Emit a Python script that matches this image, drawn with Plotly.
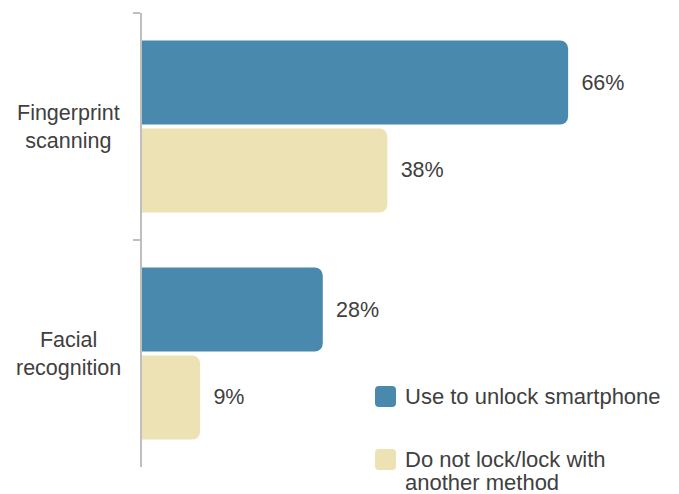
import plotly.graph_objects as go

# Biometric unlock methods, share of respondents (%)
categories = ["Fingerprint scanning", "Facial recognition"]
category_labels = ["Fingerprint<br>scanning", "Facial<br>recognition"]
use_to_unlock = [66, 28]
not_lock_other = [38, 9]

series_names = ["Use to unlock smartphone", "Do not lock/lock with another method"]
legend_lines = [["Use to unlock smartphone"], ["Do not lock/lock with", "another method"]]
colors = ["#4A89AE", "#EDE2B4"]

TEXT = "#404040"
FONT = "Liberation Sans, Arial, sans-serif"
PAD = "\u00a0\u2009"

fig = go.Figure()
for name, vals, col in zip(series_names, [use_to_unlock, not_lock_other], colors):
    fig.add_trace(go.Bar(
        y=categories,
        x=vals,
        orientation="h",
        name=name,
        marker=dict(color=col, line=dict(width=0)),
        text=[f"{PAD}{v}%" for v in vals],
        textposition="outside",
        textfont=dict(size=21.5, color=TEXT, family=FONT),
        cliponaxis=False,
        hoverinfo="skip",
        showlegend=False,
    ))

# Category labels, centred under one another
for cat, lab in zip(categories, category_labels):
    fig.add_annotation(
        x=-0.1436, xref="paper", y=cat, yref="y",
        text=lab, showarrow=False, xanchor="center", yanchor="middle",
        align="center", font=dict(size=21.5, color=TEXT, family=FONT),
    )

# Legend: rounded colour keys with text beside them
key_x = 0.4756
key_y = [0.1553, 0.0165]
text_x = 0.5098
line_y = [[0.1542], [0.0165, -0.0352]]
r, h = 4, 10.5
key_path = (f"M {-h + r},{-h} L {h - r},{-h} Q {h},{-h} {h},{-h + r} "
            f"L {h},{h - r} Q {h},{h} {h - r},{h} L {-h + r},{h} "
            f"Q {-h},{h} {-h},{h - r} L {-h},{-h + r} Q {-h},{-h} {-h + r},{-h} Z")
for col, ky, lines, ly in zip(colors, key_y, legend_lines, line_y):
    fig.add_shape(
        type="path", path=key_path,
        xref="paper", yref="paper", xsizemode="pixel", ysizemode="pixel",
        xanchor=key_x, yanchor=ky,
        fillcolor=col, line=dict(width=0),
    )
    for txt, y in zip(lines, ly):
        fig.add_annotation(
            x=text_x, xref="paper", y=y, yref="paper",
            text=txt, showarrow=False, xanchor="left", yanchor="middle",
            font=dict(size=22, color=TEXT, family=FONT),
        )

fig.update_layout(
    width=679, height=494,
    margin=dict(l=142, r=25, t=13, b=27),
    paper_bgcolor="white", plot_bgcolor="white",
    barmode="group", bargap=0.225, bargroupgap=0.045,
    barcornerradius=8,
    font=dict(family=FONT, size=21.5, color=TEXT),
    showlegend=False,
)
fig.update_xaxes(range=[0, 79.3], visible=False)
fig.update_yaxes(
    autorange="reversed", showticklabels=False,
    showline=True, linecolor="#BFBFBF", linewidth=2,
    ticks="outside", tickson="boundaries", ticklen=7, tickcolor="#BFBFBF", tickwidth=2,
    showgrid=False, zeroline=False,
)

fig.write_html("out.html")
